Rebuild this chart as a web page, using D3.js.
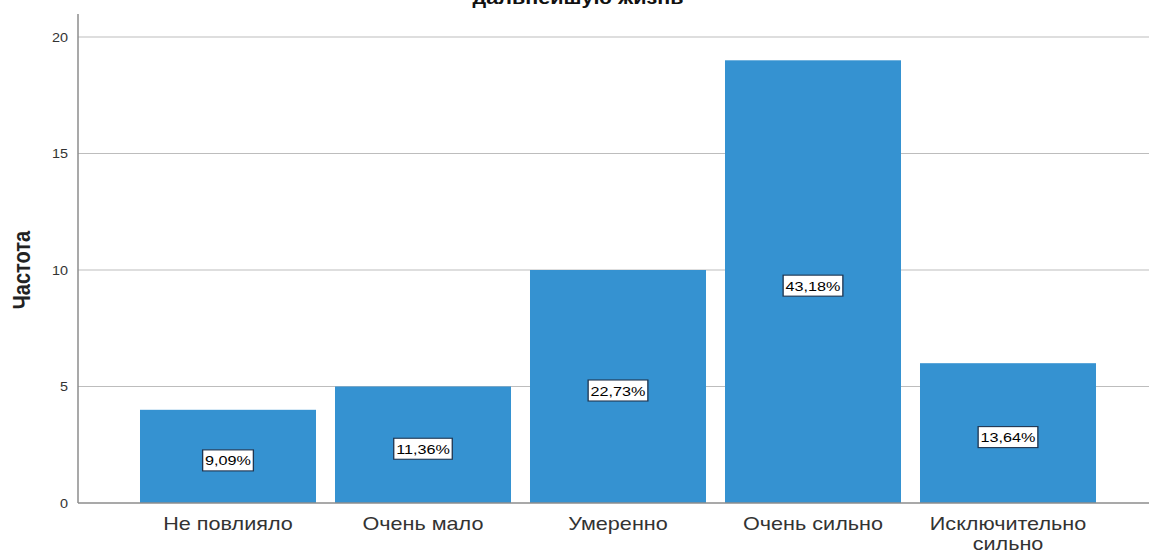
<!DOCTYPE html>
<html><head><meta charset="utf-8">
<script src="https://cdn.jsdelivr.net/npm/d3@7"></script>
<style>body{margin:0;background:#fff}svg{display:block}</style>
</head><body>
<svg id="c" width="1149" height="556"></svg>
<script>
const categories = ["Не повлияло", "Очень мало", "Умеренно", "Очень сильно", "Исключительно сильно"];
const counts = [4, 5, 10, 19, 6];
const percentLabels = ["9,09%", "11,36%", "22,73%", "43,18%", "13,64%"];
const yTicks = [0, 5, 10, 15, 20];
const titleText = "дальнейшую жизнь";
const yLabel = "Частота";

const SX = 1.2; // horizontal stretch of the reference texts
const svg = d3.select("#c");
const font = "Arial, 'Liberation Sans', sans-serif";
const x = d3.scaleBand().domain(categories).range([130.5, 1105.5]).paddingInner(0.0974).paddingOuter(0.0487);
const y = d3.scaleLinear().domain([0, 20]).range([503, 37]);
const axisLeft = 78, axisRight = 1149;

// grid
svg.append("g").selectAll("line").data(yTicks.filter(d => d > 0)).join("line")
  .attr("x1", axisLeft).attr("x2", axisRight)
  .attr("y1", d => y(d)).attr("y2", d => y(d))
  .attr("stroke", "#bdbdbd").attr("stroke-width", 1.2);

// bars
svg.append("g").selectAll("rect").data(counts).join("rect")
  .attr("x", (d, i) => x(categories[i])).attr("width", x.bandwidth())
  .attr("y", d => y(d)).attr("height", d => y(0) - y(d))
  .attr("fill", "#3592d1");

// y axis
const ya = svg.append("g").attr("transform", `translate(${axisLeft},0)`)
  .call(d3.axisLeft(y).tickValues(yTicks).tickSize(0).tickPadding(0));
ya.select(".domain").attr("stroke", "#8c8c8c").attr("stroke-width", 1.5).attr("d", `M0,14V${y(0)}`);
ya.selectAll(".tick text").attr("x", 0).attr("dy", "0.34em")
  .attr("transform", `translate(-10,0) scale(${SX},1)`)
  .attr("font-family", font).attr("font-size", 12).attr("fill", "#333");

svg.append("line").attr("x1", axisLeft).attr("x2", axisRight).attr("y1", y(0)).attr("y2", y(0))
  .attr("stroke", "#8c8c8c").attr("stroke-width", 1.5);

// x axis
const xa = svg.append("g").attr("transform", `translate(0,${y(0)})`)
  .call(d3.axisBottom(x).tickSize(0).tickPadding(0));
xa.select(".domain").remove();
xa.selectAll(".tick text").each(function(d) {
  const t = d3.select(this).text("").attr("font-family", font).attr("font-size", 18).attr("fill", "#333")
    .attr("y", 0).attr("dy", 0).attr("transform", `scale(${SX},1)`);
  const words = d === "Исключительно сильно" ? ["Исключительно", "сильно"] : [d];
  words.forEach((w, i) => t.append("tspan").attr("x", 0).attr("y", 27 + i * 20).text(w));
});

// value labels
const lg = svg.append("g");
counts.forEach((v, i) => {
  const cx = x(categories[i]) + x.bandwidth() / 2;
  const cy = y(v / 2) + 4;
  const g = lg.append("g").attr("transform", `translate(${cx},${cy}) scale(${SX},1)`);
  const txt = g.append("text").attr("x", 0).attr("y", 5).attr("text-anchor", "middle")
    .attr("font-family", font).attr("font-size", 13.5).attr("fill", "#000").text(percentLabels[i]);
  const bb = txt.node().getBBox();
  g.insert("rect", "text").attr("x", bb.x - 2).attr("y", -10.5).attr("width", bb.width + 4).attr("height", 21)
    .attr("fill", "#fff").attr("stroke", "#1f3550").attr("stroke-width", 1.1);
});

// title
svg.append("text").attr("transform", `translate(578,4) scale(${SX},1)`).attr("text-anchor", "middle")
  .attr("font-family", font).attr("font-size", 18).attr("font-weight", "bold").attr("fill", "#111").text(titleText);

// y label
svg.append("text").attr("transform", `translate(30,270) scale(${SX},1) rotate(-90)`).attr("text-anchor", "middle")
  .attr("font-family", font).attr("font-size", 20).attr("font-weight", "bold").attr("fill", "#222").text(yLabel);
</script>
</body></html>
